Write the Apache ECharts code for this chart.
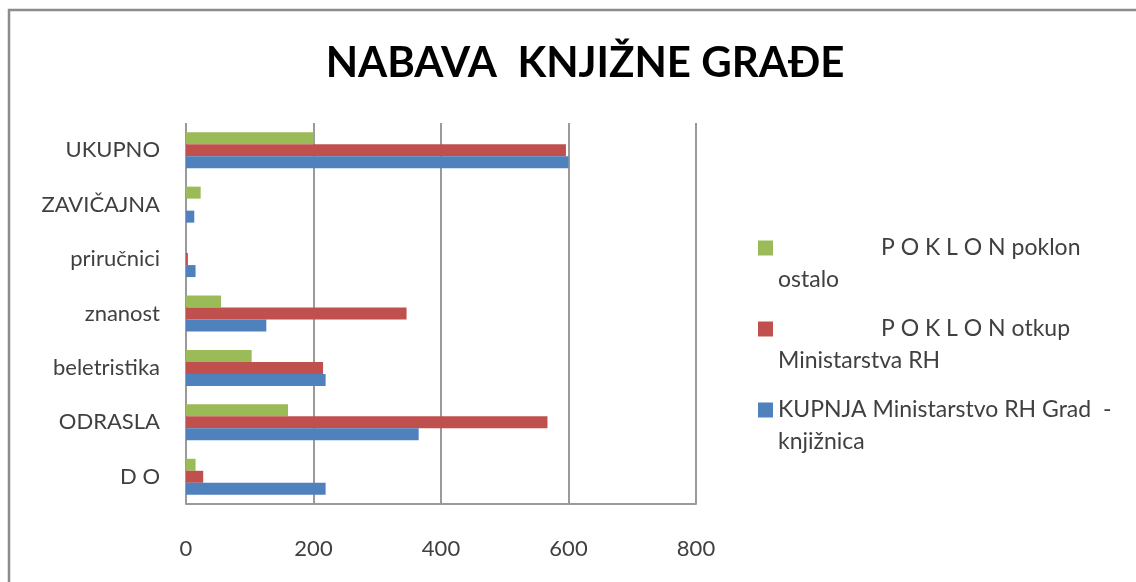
<!DOCTYPE html>
<html>
<head>
<meta charset="utf-8">
<script src="https://cdn.jsdelivr.net/npm/echarts@6/dist/echarts.min.js"></script>
<style>
html,body{margin:0;padding:0;background:#fff;}
#c{width:1136px;height:582px;}
</style>
</head>
<body>
<div id="c"></div>
<script>
const categories = ['D O', 'ODRASLA', 'beletristika', 'znanost', 'priručnici', 'ZAVIČAJNA', 'UKUPNO'];
const kupnja = [219, 365, 219, 126, 15, 13, 600];
const otkup = [27, 567, 215, 346, 3, 0, 596];
const poklon = [15, 160, 103, 55, 0, 23, 200];
const xTicks = [0, 200, 400, 600, 800];
const seriesNames = ['KUPNJA Ministarstvo RH Grad  - knjižnica', 'P O K L O N otkup Ministarstva RH', 'P O K L O N poklon ostalo'];
const legendText = {
  'P O K L O N poklon ostalo': '{a| }\n{pad| }{a|P O K L O N poklon}\n{a|ostalo}',
  'P O K L O N otkup Ministarstva RH': '{a| }\n{pad| }{a|P O K L O N otkup}\n{a|Ministarstva RH}',
  'KUPNJA Ministarstvo RH Grad  - knjižnica': '{a| }\n{a|KUPNJA Ministarstvo RH Grad  -}\n{a|knjižnica}'
};
const FONT = 'Lato, "Open Sans", sans-serif';
const chart = echarts.init(document.getElementById('c'));
chart.setOption({
  backgroundColor: '#ffffff',
  animation: false,
  title: {
    text: 'NABAVA  KNJIŽNE GRAĐE',
    left: 580,
    textAlign: 'center',
    top: 37,
    textStyle: { fontFamily: FONT, fontWeight: 'bold', fontSize: 42, color: '#000' }
  },
  graphic: [{
    type: 'rect', silent: true,
    shape: { x: 9, y: 10, width: 1140, height: 590 },
    style: { fill: 'none', stroke: '#8c8c8c', lineWidth: 2.5 }
  }],
  grid: { left: 186, top: 123, width: 510, height: 381, containLabel: false },
  legend: {
    orient: 'vertical',
    left: 753,
    top: 195,
    itemWidth: 15,
    itemHeight: 15,
    itemGap: -15,
    icon: 'rect',
    data: [seriesNames[2], seriesNames[1], seriesNames[0]],
    formatter: function (name) { return legendText[name]; },
    textStyle: {
      fontFamily: FONT, fontSize: 23, color: '#404040', lineHeight: 32,
      rich: {
        a: { fontFamily: FONT, fontSize: 23, color: '#404040', lineHeight: 32 },
        pad: { width: 103, lineHeight: 32 }
      }
    }
  },
  xAxis: {
    type: 'value', min: 0, max: 800, interval: 200,
    axisLine: { show: true, lineStyle: { color: '#9a9a9a', width: 2 } },
    axisTick: { show: false },
    splitLine: { show: true, lineStyle: { color: '#9a9a9a', width: 2 } },
    axisLabel: { margin: 34, fontFamily: FONT, fontSize: 22, color: '#404040',
      formatter: function (v) { return xTicks.indexOf(v) >= 0 ? String(v) : ''; } }
  },
  yAxis: {
    type: 'category', data: categories,
    axisLine: { show: false },
    axisTick: { show: false },
    axisLabel: { margin: 26, fontFamily: FONT, fontSize: 22, color: '#404040' }
  },
  series: [
    { name: seriesNames[2], type: 'bar', data: poklon, barWidth: 12, barGap: '0%', itemStyle: { color: '#9BBB59' } },
    { name: seriesNames[1], type: 'bar', data: otkup, barWidth: 12, barGap: '0%', itemStyle: { color: '#C0504D' } },
    { name: seriesNames[0], type: 'bar', data: kupnja, barWidth: 12, barGap: '0%', itemStyle: { color: '#4F81BD' } }
  ]
});
</script>
</body>
</html>
